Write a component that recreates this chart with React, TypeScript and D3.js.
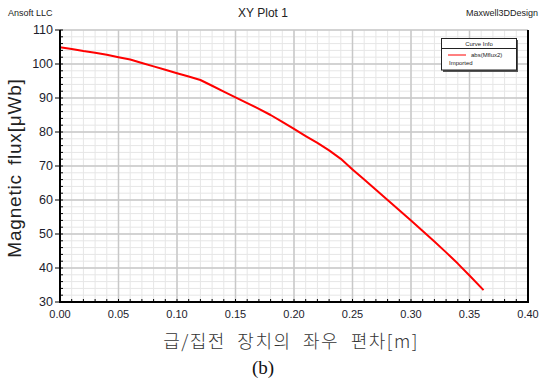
import React from "react";
import * as d3 from "d3";

// curve: lateral offset [m] -> magnetic flux [uWb]
const offsets = [0, 0.01, 0.02, 0.03, 0.04, 0.05, 0.06, 0.07, 0.08, 0.09, 0.1, 0.11, 0.12, 0.13, 0.14, 0.15, 0.16, 0.17, 0.18, 0.19, 0.2, 0.21, 0.22, 0.23, 0.24, 0.25, 0.26, 0.27, 0.28, 0.29, 0.3, 0.31, 0.32, 0.33, 0.34, 0.35, 0.362];
const flux = [104.9, 104.4, 103.8, 103.3, 102.7, 102.0, 101.3, 100.3, 99.3, 98.3, 97.3, 96.3, 95.3, 93.6, 91.9, 90.2, 88.5, 86.8, 85.0, 83.0, 80.9, 78.8, 76.8, 74.6, 72.1, 69.0, 66.0, 63.0, 60.0, 57.0, 54.0, 50.9, 47.8, 44.6, 41.3, 37.8, 33.5];

const xTicks = [0, 0.05, 0.1, 0.15, 0.2, 0.25, 0.3, 0.35, 0.4];
const yTicks = [30, 40, 50, 60, 70, 80, 90, 100, 110];

const W = 541;
const H = 380;
const left = 60, right = 528, top = 30, bottom = 302;
const font = "'Liberation Sans', Arial, sans-serif";

export default function App() {
  const x = d3.scaleLinear().domain([0, 0.4]).range([left, right]);
  const y = d3.scaleLinear().domain([30, 110]).range([bottom, top]);

  const xMinor = d3.range(0, 0.4001, 0.01);
  const yMinor = d3.range(30, 110.001, 2);

  const line = d3
    .line<number>()
    .x((_, i) => x(offsets[i]))
    .y((d) => y(d));

  return (
    <svg width={W} height={H} style={{ position: "absolute", left: 0, top: 0, background: "#fff" }}>
      <rect x={0} y={0} width={W} height={H} fill="#fff" />
      {/* minor grid */}
      {xMinor.map((v, i) => (
        <line key={"xm" + i} x1={x(v)} x2={x(v)} y1={top} y2={bottom} stroke="#e6e6e6" strokeWidth={1} />
      ))}
      {yMinor.map((v, i) => (
        <line key={"ym" + i} x1={left} x2={right} y1={y(v)} y2={y(v)} stroke="#e6e6e6" strokeWidth={1} />
      ))}
      {/* major grid */}
      {xTicks.map((v) => (
        <line key={"xg" + v} x1={x(v)} x2={x(v)} y1={top} y2={bottom} stroke="#c8c8c8" strokeWidth={1.5} />
      ))}
      {yTicks.map((v) => (
        <line key={"yg" + v} x1={left} x2={right} y1={y(v)} y2={y(v)} stroke="#c8c8c8" strokeWidth={1.5} />
      ))}

      {/* curve */}
      <path d={line(flux) || ""} fill="none" stroke="#ff0000" strokeWidth={2} strokeLinejoin="round" />

      {/* frame */}
      <line x1={right} x2={right} y1={top} y2={bottom} stroke="#000" strokeWidth={2} />
      <line x1={left} x2={left} y1={top} y2={bottom + 1} stroke="#000" strokeWidth={2} />
      <line x1={left - 1} x2={right + 1} y1={bottom} y2={bottom} stroke="#000" strokeWidth={2} />

      {/* ticks */}
      {yMinor.map((v, i) => (
        <line key={"yt" + i} x1={left} x2={left + 3} y1={y(v)} y2={y(v)} stroke="#000" strokeWidth={1} />
      ))}
      {xMinor.map((v, i) => (
        <line key={"xt" + i} x1={x(v)} x2={x(v)} y1={bottom} y2={bottom - 3} stroke="#000" strokeWidth={1} />
      ))}
      {yTicks.map((v) => (
        <line key={"ytM" + v} x1={left - 5} x2={left} y1={y(v)} y2={y(v)} stroke="#000" strokeWidth={1} />
      ))}

      {/* tick labels */}
      {yTicks.map((v) => (
        <text key={"yl" + v} x={left - 7} y={y(v)} dy="0.35em" textAnchor="end" fontFamily={font} fontSize={12.5} fill="#1c1c2c">
          {v}
        </text>
      ))}
      {xTicks.map((v) => (
        <text key={"xl" + v} x={x(v)} y={bottom + 16} textAnchor="middle" fontFamily={font} fontSize={11} fill="#1c1c2c">
          {d3.format(".2f")(v)}
        </text>
      ))}

      {/* titles */}
      <text x={8} y={16} fontFamily={font} fontSize={9} fill="#222">Ansoft LLC</text>
      <text x={263} y={17} textAnchor="middle" fontFamily={font} fontSize={12} fill="#222">XY Plot 1</text>
      <text x={538} y={16} textAnchor="end" fontFamily={font} fontSize={9} fill="#222">Maxwell3DDesign</text>

      <text
        transform={`translate(21,168) rotate(-90)`}
        textAnchor="middle"
        fontFamily={font}
        fontSize={19}
        letterSpacing={0.8}
        wordSpacing={3}
        fill="#222"
      >
        Magnetic flux[μWb]
      </text>
      <text
        x={291}
        y={348}
        textAnchor="middle"
        fontFamily={"'Noto Sans CJK KR', sans-serif"}
        fontWeight={300}
        fontSize={18}
        letterSpacing={1.5}
        wordSpacing={6}
        fill="#333"
      >
        급/집전 장치의 좌우 편차[m]
      </text>
      <text x={263} y={374} textAnchor="middle" fontFamily={"'Liberation Serif', 'Times New Roman', serif"} fontSize={19} fill="#111">
        (b)
      </text>

      {/* legend */}
      <g>
        <rect x={443} y={40} width={75} height={32} fill="#555" />
        <rect x={441.5} y={38.5} width={75} height={31.5} fill="#fff" stroke="#222" strokeWidth={1} />
        <text x={479} y={46} textAnchor="middle" fontFamily={font} fontSize={6} fill="#222">Curve Info</text>
        <line x1={441.5} x2={516.5} y1={48.5} y2={48.5} stroke="#222" strokeWidth={1} />
        <line x1={448} x2={466} y1={55} y2={55} stroke="#ff0000" strokeWidth={1} />
        <text x={471} y={57} fontFamily={font} fontSize={6} fill="#222">abs(Mflux2)</text>
        <text x={449} y={65} fontFamily={font} fontSize={6} fill="#222">Imported</text>
      </g>
    </svg>
  );
}
